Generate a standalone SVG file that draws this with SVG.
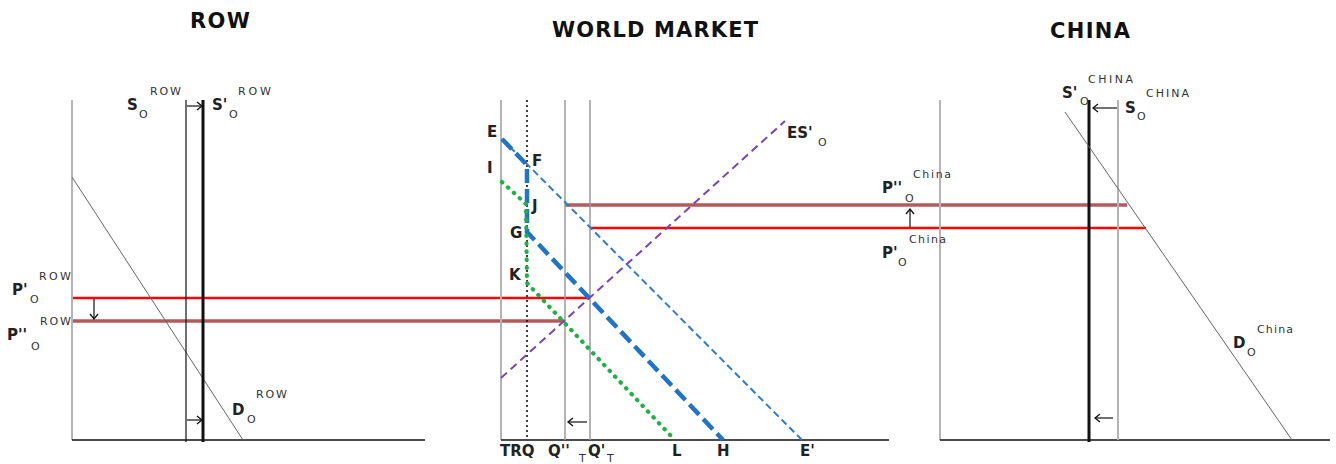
<svg xmlns="http://www.w3.org/2000/svg" width="1336" height="464" viewBox="0 0 1336 464">
<style>
.t{font-family:"DejaVu Sans",Verdana,sans-serif;font-weight:bold;font-size:21px;fill:#111}
.l{font-family:"DejaVu Sans",Verdana,sans-serif;font-weight:bold;font-size:15px;fill:#222}
.s{font-family:"DejaVu Sans",Verdana,sans-serif;font-size:11px;fill:#333}
.sup{font-family:"DejaVu Sans",Verdana,sans-serif;font-size:11px;fill:#333}
.ax{stroke:#b4b4b4;stroke-width:2;fill:none}
.base{stroke:#111;stroke-width:1.6;fill:none}
.vq{stroke:#9a9a9a;stroke-width:1.5;fill:none}
.dem{stroke:#666;stroke-width:1;fill:none}
.red{stroke:#ff0000;stroke-width:2.5;fill:none}
.brn{stroke:#b55a5a;stroke-width:3.5;fill:none}
.arr{stroke:#111;stroke-width:1.2;fill:none;marker-end:url(#ah)}
.bthin{stroke:#2f7bd0;stroke-width:2;stroke-dasharray:7 4;fill:none}
.bthick{stroke:#1e74c8;stroke-width:4.5;stroke-dasharray:14 6;fill:none}
.grn{stroke:#1fb046;stroke-width:4.2;stroke-linecap:round;stroke-dasharray:0.5 7.5;fill:none}
.pur{stroke:#7b44b3;stroke-width:2;stroke-dasharray:8 5;fill:none}
.trq{stroke:#111;stroke-width:1.6;stroke-dasharray:2 3;fill:none}
</style>
<defs>
<marker id="ah" markerUnits="userSpaceOnUse" markerWidth="10" markerHeight="10" refX="8" refY="5" orient="auto">
<polyline points="3,1 8,5 3,9" fill="none" stroke="#111" stroke-width="1.3"/>
</marker>
</defs>
<rect width="1336" height="464" fill="#fff"/>

<g id="titles">
<text class="t" x="190" y="28" textLength="60">ROW</text>
<text class="t" x="552" y="37" textLength="206">WORLD MARKET</text>
<text class="t" x="1050" y="38" textLength="80">CHINA</text>
</g>

<g id="price-lines">
<line class="red" x1="72" y1="298" x2="590" y2="298"/>
<line class="brn" x1="72" y1="321" x2="565" y2="321"/>
<line class="brn" x1="565" y1="205" x2="1127" y2="205"/>
<line class="red" x1="590" y1="228" x2="1146" y2="228"/>
</g>

<g id="row-panel">
<line class="ax" x1="72" y1="100" x2="72" y2="440"/>
<line class="base" x1="72" y1="440" x2="425" y2="440"/>
<line class="dem" x1="72" y1="177" x2="243" y2="440"/>
<line stroke="#111" stroke-width="1.2" x1="186" y1="100" x2="186" y2="442"/>
<line stroke="#111" stroke-width="3" x1="203" y1="100" x2="203" y2="442"/>
<text class="l" x="127" y="110">S</text><text class="s" x="139" y="118">O</text><text class="sup" x="150" y="95" textLength="31">ROW</text>
<text class="l" x="212" y="110">S'</text><text class="s" x="229" y="118">O</text><text class="sup" x="238" y="95" textLength="33">ROW</text>
<text class="l" x="12" y="295">P'</text><text class="s" x="30" y="303">O</text><text class="sup" x="39" y="280" textLength="32">ROW</text>
<text class="l" x="7" y="340">P''</text><text class="s" x="31" y="350">O</text><text class="sup" x="40" y="325" textLength="31">ROW</text>
<text class="l" x="232" y="415">D</text><text class="s" x="247" y="423">O</text><text class="sup" x="256" y="398" textLength="31">ROW</text>
</g>

<g id="world-panel">
<line class="ax" x1="501" y1="100" x2="501" y2="440"/>
<line class="base" x1="501" y1="440" x2="889" y2="440"/>
<line class="trq" x1="527" y1="100" x2="527" y2="440"/>
<line class="vq" x1="565" y1="100" x2="565" y2="440"/>
<line class="vq" x1="590" y1="100" x2="590" y2="440"/>
<line class="bthin" x1="502" y1="139" x2="802" y2="440"/>
<polyline class="bthick" points="502,139 527,165 527,232 723,440"/>
<polyline class="grn" points="502,182 526,204 527,283 672,437"/>
<line class="pur" x1="501" y1="378" x2="785" y2="121"/>
<text class="l" x="487" y="137">E</text>
<text class="l" x="487" y="173">I</text>
<text class="l" x="532" y="166">F</text>
<text class="l" x="532" y="211">J</text>
<text class="l" x="510" y="238">G</text>
<text class="l" x="509" y="280">K</text>
<text class="l" x="787" y="138">ES'</text><text class="s" x="818" y="146">O</text>
<text class="l" x="500" y="456">TRQ</text>
<text class="l" x="548" y="456">Q''</text><text class="s" x="579" y="462">T</text>
<text class="l" x="588" y="456">Q'</text><text class="s" x="607" y="462">T</text>
<text class="l" x="672" y="456">L</text>
<text class="l" x="717" y="456">H</text>
<text class="l" x="800" y="456">E'</text>
</g>

<g id="china-panel">
<line class="ax" x1="940" y1="100" x2="940" y2="440"/>
<line class="base" x1="940" y1="440" x2="1330" y2="440"/>
<line stroke="#b4b4b4" stroke-width="2" x1="1118" y1="100" x2="1118" y2="440"/>
<line stroke="#111" stroke-width="3" x1="1089" y1="100" x2="1089" y2="442"/>
<line class="dem" x1="1065" y1="112" x2="1292" y2="440"/>
<text class="sup" x="1088" y="83" textLength="45">CHINA</text>
<text class="l" x="1062" y="98">S'</text><text class="s" x="1080" y="105">O</text>
<text class="l" x="1125" y="113">S</text><text class="s" x="1137" y="120">O</text>
<text class="sup" x="1146" y="97" textLength="43">CHINA</text>
<text class="sup" x="913" y="178" textLength="38">China</text>
<text class="l" x="882" y="193">P''</text><text class="s" x="905" y="202">O</text>
<text class="sup" x="909" y="243" textLength="37">China</text>
<text class="l" x="882" y="258">P'</text><text class="s" x="898" y="266">O</text>
<text class="sup" x="1257" y="333" textLength="36">China</text>
<text class="l" x="1233" y="348">D</text><text class="s" x="1247" y="356">O</text>
</g>

<g id="connectors">
<line class="arr" x1="187" y1="106" x2="202" y2="106"/>
<line class="arr" x1="187" y1="420" x2="202" y2="420"/>
<line class="arr" x1="94" y1="299" x2="94" y2="319"/>
<line class="arr" x1="587" y1="422" x2="568" y2="422"/>
<line class="arr" x1="1117" y1="108" x2="1093" y2="108"/>
<line class="arr" x1="1113" y1="418" x2="1095" y2="418"/>
<line class="arr" x1="910" y1="227" x2="910" y2="209"/>
</g>
</svg>
